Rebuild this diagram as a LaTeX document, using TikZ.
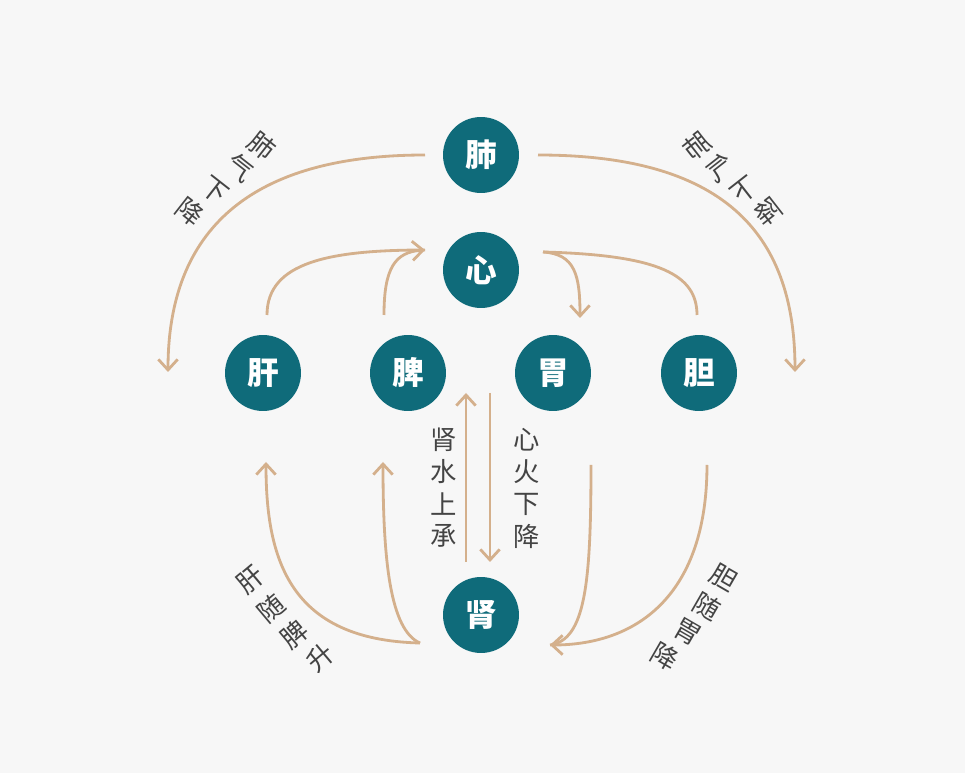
\documentclass[tikz,border=0pt]{standalone}
\usepackage{fontspec}
\setmainfont{Noto Sans CJK SC}
\usetikzlibrary{arrows.meta}
\definecolor{bg}{HTML}{F7F7F7}
\definecolor{organ}{HTML}{0F6B7A}
\definecolor{flow}{HTML}{D4B08C}
\definecolor{ink}{HTML}{444444}
\tikzset{
  organ/.style={circle,fill=organ,minimum size=1.52cm,inner sep=0pt,text=white,font=\fontsize{18}{18}\selectfont\bfseries},
  flow/.style={draw=flow,line width=1.6pt},
  tip/.style={-{Straight Barb[length=6pt,width=11pt,line width=1.6pt]}},
  lab/.style={text=ink,font=\fontsize{15}{15}\selectfont,inner sep=0pt}
}
\begin{document}
\begin{tikzpicture}[x=0.02cm,y=-0.02cm]
  \fill[bg] (0,0) rectangle (965,773);
  \node[organ] (fei) at (481,155) {肺};
  \node[organ] (xin) at (481,270) {心};
  \node[organ] (gan) at (263,373) {肝};
  \node[organ] (pi) at (408,373) {脾};
  \node[organ] (wei) at (553,373) {胃};
  \node[organ] (dan) at (699,373) {胆};
  \node[organ] (shen) at (481,615) {肾};
  % upper arcs
  \draw[flow,tip] (425,155) .. controls (250,155) and (168,230) .. (168,372);
  \draw[flow,tip] (538,155) .. controls (720,155) and (795,230) .. (795,372);
  \draw[flow] (267,315) .. controls (267,262) and (330,250) .. (425,250);
  \draw[flow,tip] (384,315) .. controls (384,268) and (395,252) .. (425,250);
  \draw[flow,tip] (543,252) .. controls (575,254) and (580,275) .. (580,318);
  \draw[flow] (543,252) .. controls (660,255) and (697,275) .. (697,315);
  % middle
  \draw[flow,tip] (466,562) -- (466,393);
  \draw[flow,tip] (490,393) -- (490,562);
  % lower arcs
  \draw[flow,tip] (420,643) .. controls (290,640) and (266,560) .. (266,462);
  \draw[flow,tip] (420,643) .. controls (390,630) and (383,560) .. (383,462);
  \draw[flow] (591,465) .. controls (591,585) and (585,640) .. (550,645);
  \draw[flow,tip] (707,465) .. controls (707,592) and (640,645) .. (550,645);
  % labels
  \foreach \c/\x/\y in {肾/444/440,水/444/472,上/444/504,承/444/536}
    \node[lab] at (\x,\y) {\c};
  \foreach \c/\x/\y in {心/527/440,火/527/472,下/527/504,降/527/536}
    \node[lab] at (\x,\y) {\c};
  \foreach \c/\x/\y in {肺/262/146,气/240/168,下/214/190,降/190/212}
    \node[lab,rotate=-38] at (\x,\y) {\c};
  \foreach \c/\x/\y in {肺/697/146,气/720/168,下/745/190,降/768/212}
    \node[lab,rotate=38,xscale=-1] at (\x,\y) {\c};
  \foreach \c/\x/\y in {肝/250/580,随/271/608,脾/294/634,升/320/658}
    \node[lab,rotate=40] at (\x,\y) {\c};
  \foreach \c/\x/\y in {胆/724/578,随/707/606,胃/688/632,降/665/656}
    \node[lab,rotate=-30] at (\x,\y) {\c};
\end{tikzpicture}
\end{document}
